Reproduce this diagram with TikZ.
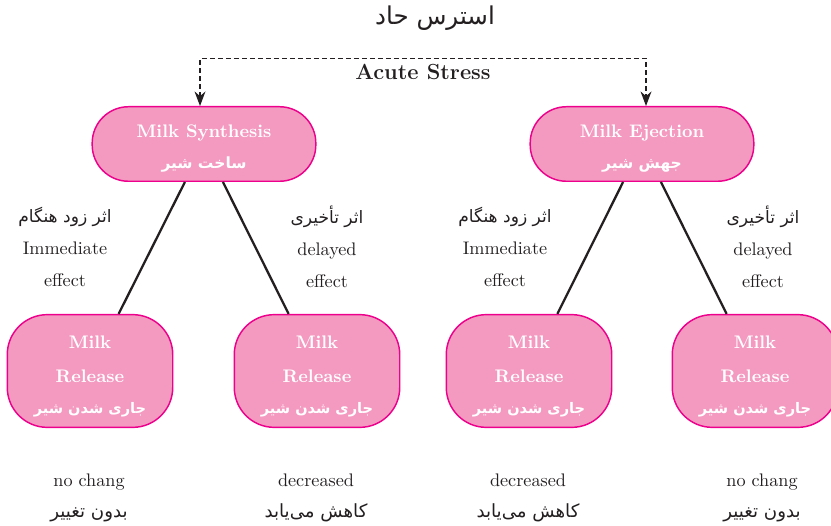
\documentclass[tikz,border=0pt]{standalone}
\usepackage{fontspec}
\usetikzlibrary{arrows.meta,positioning}
\newfontfamily\arabicfont[Script=Arabic]{DejaVu Sans}
\TeXXeTstate=1
\definecolor{milkpink}{HTML}{F49AC1}
\definecolor{milkedge}{HTML}{EC008C}
\definecolor{inkgray}{HTML}{231F20}
\newcommand{\fasize}[1]{\arabicfont\fontsize{#1}{12}\selectfont}

\begin{document}
\begin{tikzpicture}[x=0.55pt, y=-0.55pt,
    procbox/.style={draw=milkedge, line width=0.8pt, fill=milkpink, text=white,
      font=\bfseries\fontsize{10}{17}\selectfont, align=center,
      minimum width=123pt, minimum height=41pt, rounded corners=20pt, inner sep=0pt},
    releasebox/.style={procbox, minimum width=91pt, minimum height=62pt,
      rounded corners=22pt, font=\bfseries\fontsize{10}{18.5}\selectfont},
    effectlbl/.style={text=inkgray, align=center, font=\fontsize{10}{17.6}\selectfont},
    resultlbl/.style={effectlbl, font=\fontsize{10}{17}\selectfont},
    branch/.style={draw=inkgray, line width=1.25pt},
    stressline/.style={draw=inkgray, line width=0.6pt, dash pattern=on 2.75pt off 1.65pt,
      {Stealth[length=8pt,width=6pt]}-{Stealth[length=8pt,width=6pt]}}]
  \useasboundingbox (0,0) rectangle (831,525);

  % title and acute stress
  \node[text=inkgray] (title) at (435,18) {\fasize{13.5}\beginR استرس حاد\endR};
  \node[text=inkgray, font=\bfseries\large, inner sep=3pt] (acute) at (423,72) {Acute Stress};

  % upper boxes
  \node[procbox] (syn) at (204,144) {\rule{0pt}{11.5pt}Milk Synthesis\\{\fasize{8.5}\beginR ساخت شیر\endR}};
  \node[procbox] (ej) at (642,144) {\rule{0pt}{11.5pt}Milk Ejection\\{\fasize{8.5}\beginR جهش شیر\endR}};

  \draw[stressline] ([xshift=-2.2pt]syn.north) |- (acute.north) -| ([xshift=2.2pt]ej.north);

  % release boxes
  \node[releasebox] (rel1) at (90,371) {\rule{0pt}{13pt}Milk\\Release\\[-1.5pt]{\fasize{8}\beginR جاری شدن شیر\endR}};
  \node[releasebox] (rel2) at (317,371) {\rule{0pt}{13pt}Milk\\Release\\[-1.5pt]{\fasize{8}\beginR جاری شدن شیر\endR}};
  \node[releasebox] (rel3) at (529,371) {\rule{0pt}{13pt}Milk\\Release\\[-1.5pt]{\fasize{8}\beginR جاری شدن شیر\endR}};
  \node[releasebox] (rel4) at (755,371) {\rule{0pt}{13pt}Milk\\Release\\[-1.5pt]{\fasize{8}\beginR جاری شدن شیر\endR}};

  \draw[branch] (syn) -- (rel1);
  \draw[branch] (syn) -- (rel2);
  \draw[branch] (ej) -- (rel3);
  \draw[branch] (ej) -- (rel4);

  % effect labels
  \node[effectlbl] (imm1) at (65,247) {{\fasize{9.4}\beginR اثر زود هنگام\endR}\\Immediate\\effect};
  \node[effectlbl] (del1) at (327,247) {{\fasize{9.4}\beginR اثر تأخیری\endR}\\delayed\\effect};
  \node[effectlbl] (imm2) at (505,247) {{\fasize{9.4}\beginR اثر زود هنگام\endR}\\Immediate\\effect};
  \node[effectlbl] (del2) at (763,247) {{\fasize{9.4}\beginR اثر تأخیری\endR}\\delayed\\effect};

  % results
  \node[resultlbl] (res1) at (89,498) {no chang\\{\fasize{10}\beginR بدون تغییر\endR}};
  \node[resultlbl] (res2) at (316,498) {decreased\\{\fasize{10}\beginR کاهش می‌یابد\endR}};
  \node[resultlbl] (res3) at (528,498) {decreased\\{\fasize{10}\beginR کاهش می‌یابد\endR}};
  \node[resultlbl] (res4) at (762,498) {no chang\\{\fasize{10}\beginR بدون تغییر\endR}};
\end{tikzpicture}
\end{document}
